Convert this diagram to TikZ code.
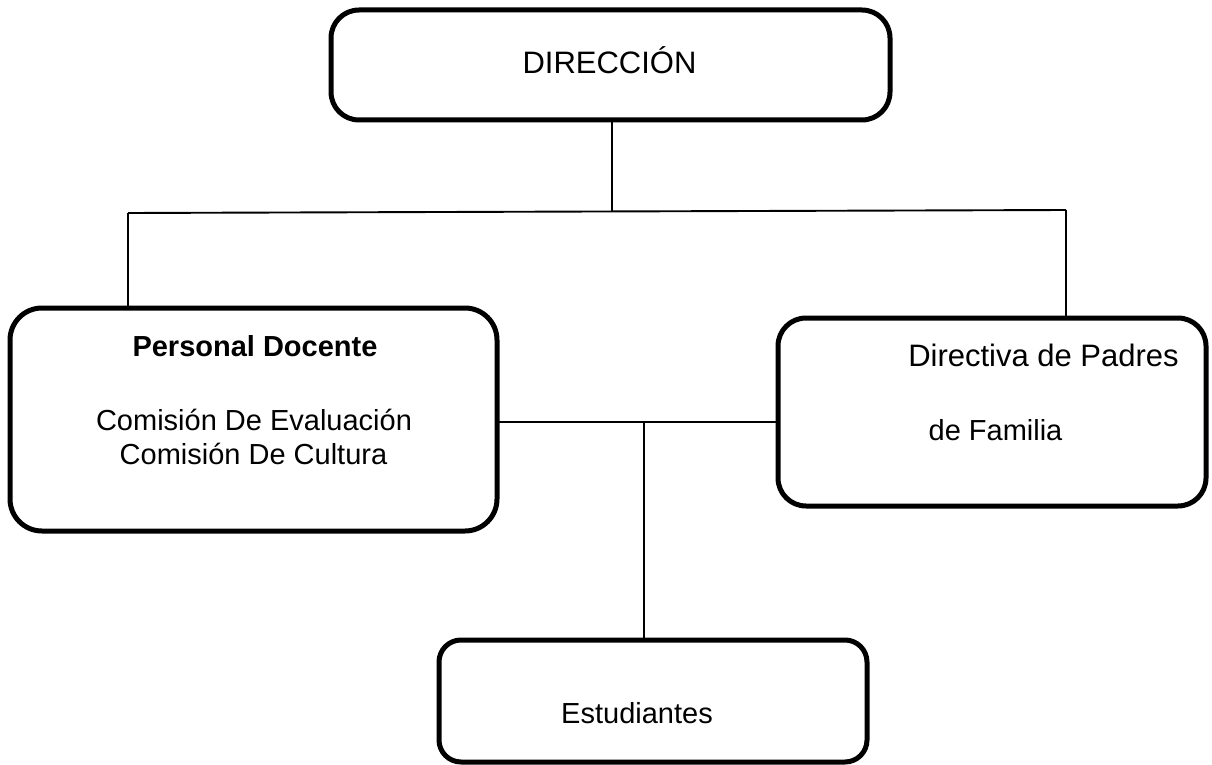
\documentclass[tikz,border=0pt]{standalone}
\usepackage{fontspec}
\setmainfont{Liberation Sans}
\begin{document}
\begin{tikzpicture}[x=1pt,y=-1pt,
  orgbox/.style={draw=black,line width=5pt,rounded corners=28pt,inner sep=0pt,outer sep=0pt,fill=none},
  conn/.style={draw=black,line width=1.9pt},
  lbl/.style={inner sep=0pt,anchor=base,font=\fontsize{29}{34}\selectfont},
  lblbig/.style={inner sep=0pt,anchor=base,font=\fontsize{31}{36}\selectfont}]
\useasboundingbox (0,0) rectangle (1212,765);
% boxes
\node[orgbox,minimum width=559pt,minimum height=110pt] (dir) at (610.5,65) {};
\node[orgbox,rounded corners=32pt,minimum width=487pt,minimum height=223pt] (pd) at (253.5,419.5) {};
\node[orgbox,minimum width=428pt,minimum height=188pt] (dp) at (992,412) {};
\node[orgbox,rounded corners=22pt,minimum width=428pt,minimum height=122pt] (est) at (653,701) {};
% texts
\node[lblbig] (tdir) at (609.5,74) {DIRECCIÓN};
\node[lbl,font=\fontsize{29}{34}\selectfont\bfseries] (tpd) at (255,356.5) {Personal Docente};
\node[lbl] (tce) at (254,430) {Comisión De Evaluación};
\node[lbl] (tcc) at (253.5,464) {Comisión De Cultura};
\node[lblbig] (tdp1) at (1043.5,366.5) {Directiva de Padres};
\node[lbl] (tdp2) at (995.5,440.5) {de Familia};
\node[lbl] (test) at (637,723) {Estudiantes};
% junctions
\coordinate (jl) at (128,213);
\coordinate (jr) at (1066,210);
\coordinate (jc) at (612,212);
\coordinate (mid) at (644,422);
% connectors
\draw[conn] (dir.south -| jc) -- (jc);
\draw[conn] (jl) -- (jr);
\draw[conn] (jl) -- (pd.north -| jl);
\draw[conn] (jr) -- (dp.north -| jr);
\draw[conn] (pd.east |- mid) -- (dp.west |- mid);
\draw[conn] (mid) -- (est.north -| mid);
\end{tikzpicture}
\end{document}
